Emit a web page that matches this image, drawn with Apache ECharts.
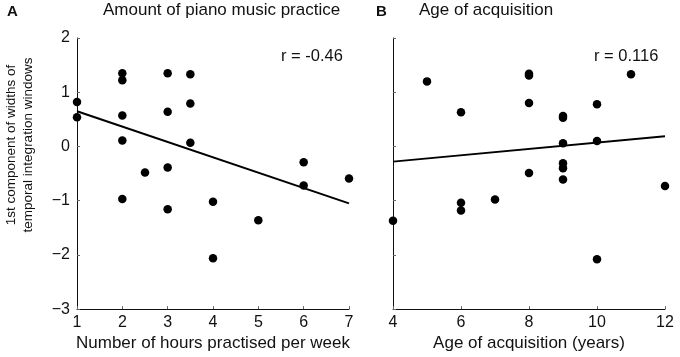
<!DOCTYPE html>
<html>
<head>
<meta charset="utf-8">
<script src="https://cdn.jsdelivr.net/npm/echarts@6/dist/echarts.min.js"></script>
<style>
  html, body { margin: 0; background: #fff; }
  #chart { width: 680px; height: 357px; }
</style>
</head>
<body>
<div id="chart"></div>
<script>
// panel A: hours practised per week vs 1st component
const hoursPoints = [
  [1, 0.82], [1, 0.54],
  [2, 1.35], [2, 1.22], [2, 0.57], [2, 0.11], [2, -0.97],
  [2.5, -0.48],
  [3, 1.35], [3, 0.64], [3, -0.39], [3, -1.16],
  [3.5, 1.33], [3.5, 0.79], [3.5, 0.07],
  [4, -1.02], [4, -2.06],
  [5, -1.36],
  [6, -0.29], [6, -0.72],
  [7, -0.59]
];
const hoursFit = [[1, 0.65], [7, -1.05]];

// panel B: age of acquisition vs 1st component
const agePoints = [
  [4, -1.37], [5, 1.2], [6, 0.63], [6, -1.04], [6, -1.18], [7, -0.98],
  [8, 1.34], [8, 1.31], [8, 0.8], [8, -0.49],
  [9, 0.56], [9, 0.53], [9, 0.06], [9, -0.31], [9, -0.4], [9, -0.61],
  [10, 0.78], [10, 0.1], [10, -2.08],
  [11, 1.33], [12, -0.73]
];
const ageFit = [[4, -0.28], [12, 0.19]];

const panelTitles = ['Amount of piano music practice', 'Age of acquisition'];
const panelLetters = ['A', 'B'];
const rLabels = ['r = -0.46', 'r = 0.116'];
const xNames = ['Number of hours practised per week', 'Age of acquisition (years)'];
const yName = '1st component of widths of\ntemporal integration windows';

const FONT = '"Liberation Sans", Arial, sans-serif';
const ink = '#111';

const chart = echarts.init(document.getElementById('chart'));

function xAxisFor(i, min, max, interval) {
  return {
    gridIndex: i, type: 'value', min, max, interval,
    name: xNames[i], nameLocation: 'middle', nameGap: 24,
    nameTextStyle: { color: ink, fontSize: 17, fontFamily: FONT },
    axisLine: { onZero: false, lineStyle: { color: ink, width: 1 } },
    axisTick: { inside: true, length: 3, lineStyle: { color: '#666' } },
    axisLabel: { color: ink, fontSize: 16, fontFamily: FONT, margin: 5 },
    splitLine: { show: false }
  };
}

function yAxisFor(i, showLabels) {
  return {
    gridIndex: i, type: 'value', min: -3, max: 2, interval: 1,
    axisLine: { onZero: false, lineStyle: { color: ink, width: 1 } },
    axisTick: { inside: true, length: 3, lineStyle: { color: '#666' } },
    axisLabel: {
      show: showLabels, color: ink, fontSize: 16, fontFamily: FONT, margin: 7,
      formatter: (v) => String(v).replace('-', '\u2212')
    },
    splitLine: { show: false }
  };
}

function scatterFor(i, data) {
  return {
    type: 'scatter', xAxisIndex: i, yAxisIndex: i, data,
    symbolSize: 8.5, clip: false, z: 3,
    itemStyle: { color: '#000', opacity: 1 }
  };
}

function fitFor(i, data) {
  return {
    type: 'line', xAxisIndex: i, yAxisIndex: i, data,
    showSymbol: false, silent: true, z: 2,
    lineStyle: { color: '#000', width: 2 }
  };
}

function textAt(text, x, y, opts) {
  return {
    type: 'text', x, y,
    style: Object.assign({ text, fill: ink, fontSize: 17, fontFamily: FONT }, opts || {})
  };
}

chart.setOption({
  animation: false,
  grid: [
    { left: 77, top: 38, width: 272, height: 272 },
    { left: 393, top: 38, width: 272, height: 272 }
  ],
  xAxis: [xAxisFor(0, 1, 7, 1), xAxisFor(1, 4, 12, 2)],
  yAxis: [yAxisFor(0, true), yAxisFor(1, false)],
  series: [
    fitFor(0, hoursFit), scatterFor(0, hoursPoints),
    fitFor(1, ageFit), scatterFor(1, agePoints)
  ],
  graphic: [
    textAt(panelLetters[0], 7, 4, { fontWeight: 'bold', fontSize: 15 }),
    textAt(panelTitles[0], 103, 2),
    textAt(panelLetters[1], 376, 4, { fontWeight: 'bold', fontSize: 15 }),
    textAt(panelTitles[1], 419, 2),
    textAt(rLabels[0], 281, 48, { fontSize: 16.5 }),
    textAt(rLabels[1], 594, 48, { fontSize: 16.5 }),
    {
      type: 'text', x: 20, y: 145, rotation: Math.PI / 2,
      style: {
        text: yName, fill: ink, fontSize: 13.5, fontFamily: FONT,
        align: 'center', verticalAlign: 'middle', lineHeight: 17
      }
    }
  ]
});
</script>
</body>
</html>
